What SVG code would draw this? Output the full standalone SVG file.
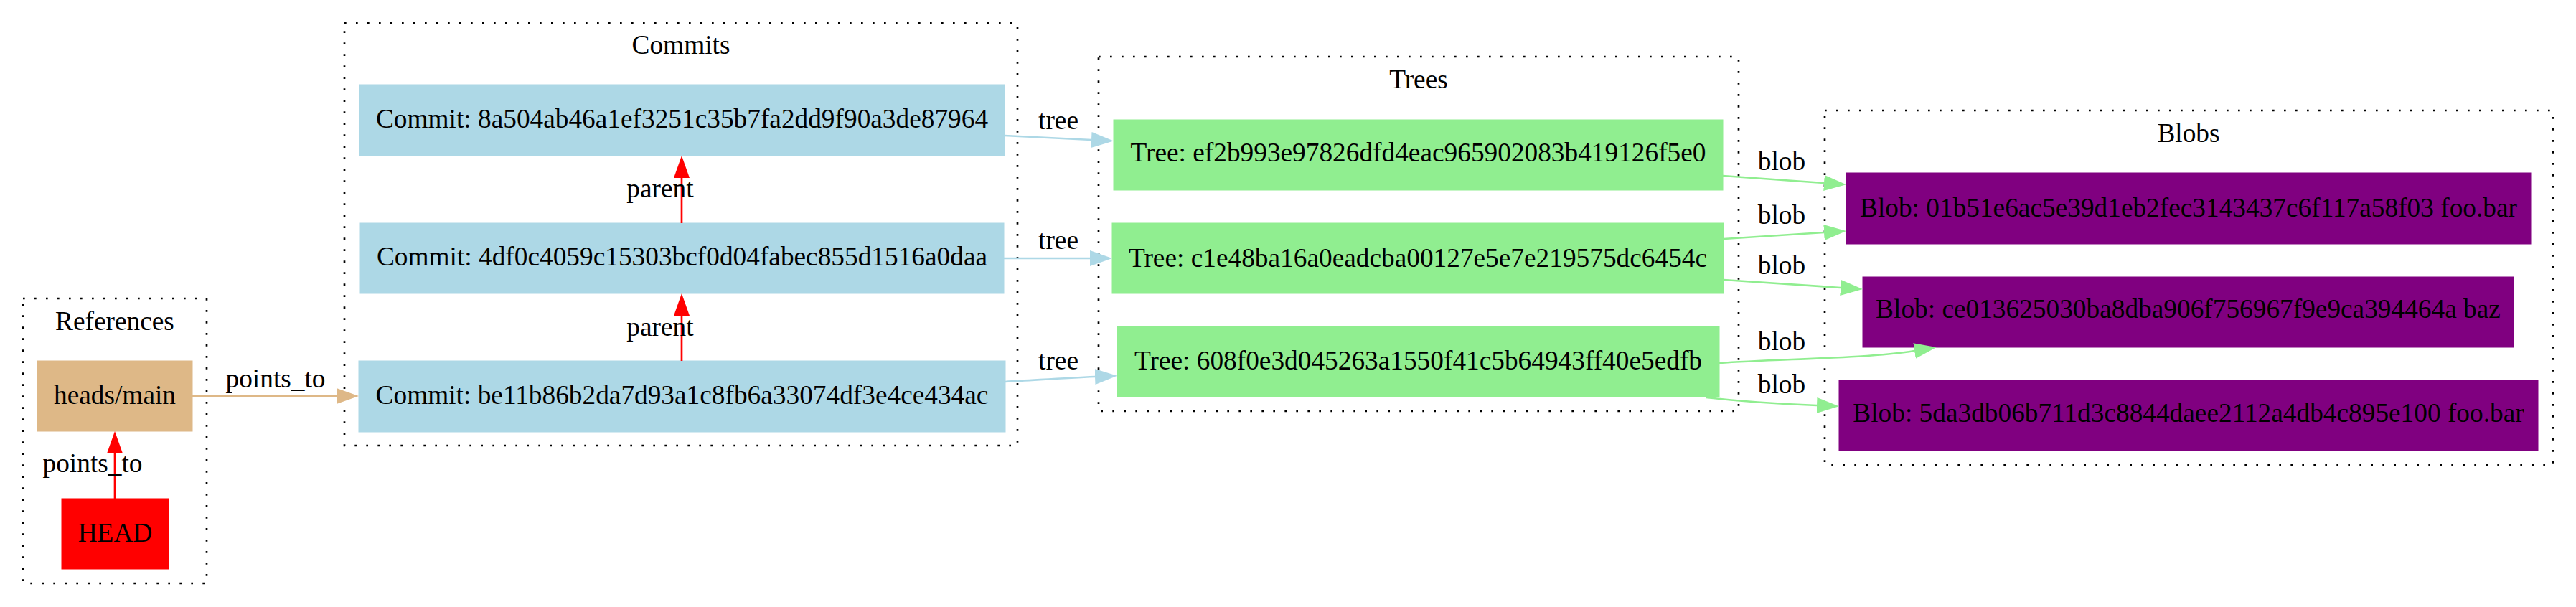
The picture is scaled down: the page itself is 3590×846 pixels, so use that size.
<svg xmlns="http://www.w3.org/2000/svg" width="3590" height="846" viewBox="0 0 3590 846">
<style>
text{font-family:"Liberation Serif","Times New Roman",serif;font-size:37.33px;fill:#000;text-anchor:middle}
.cl{fill:none;stroke:#000;stroke-width:2.67;stroke-dasharray:2.67,13.33}
.e{fill:none;stroke-width:2.67}
.red{stroke:#ff0000}.bw{stroke:#deb887}.lb{stroke:#add8e6}.lg{stroke:#90ee90}
</style>
<defs>
<marker id="aR" markerUnits="userSpaceOnUse" markerWidth="32" markerHeight="24" refX="0" refY="12" orient="auto" viewBox="0 0 32 24"><path d="M0,1 L31,12 L0,23 z" fill="#ff0000"/></marker>
<marker id="aB" markerUnits="userSpaceOnUse" markerWidth="32" markerHeight="24" refX="0" refY="12" orient="auto" viewBox="0 0 32 24"><path d="M0,1 L31,12 L0,23 z" fill="#deb887"/></marker>
<marker id="aL" markerUnits="userSpaceOnUse" markerWidth="32" markerHeight="24" refX="0" refY="12" orient="auto" viewBox="0 0 32 24"><path d="M0,1 L31,12 L0,23 z" fill="#add8e6"/></marker>
<marker id="aG" markerUnits="userSpaceOnUse" markerWidth="32" markerHeight="24" refX="0" refY="12" orient="auto" viewBox="0 0 32 24"><path d="M0,1 L31,12 L0,23 z" fill="#90ee90"/></marker>
</defs>
<rect width="3590" height="846" fill="#fff"/>
<g id="clusters">
<g id="cluster_refs"><rect class="cl" x="32" y="416" width="256" height="397"/><text x="160" y="460">References</text></g>
<g id="cluster_commits"><rect class="cl" x="480" y="32" width="938" height="589"/><text x="949" y="75">Commits</text></g>
<g id="cluster_trees"><rect class="cl" x="1531" y="79" width="892" height="494"/><text x="1977" y="123">Trees</text></g>
<g id="cluster_blobs"><rect class="cl" x="2543" y="154" width="1015" height="494"/><text x="3050" y="198">Blobs</text></g>
</g>
<g id="nodes">
<g id="heads_main"><rect x="52" y="503" width="216" height="98" fill="#deb887" stroke="#deb887"/><text x="160" y="563">heads/main</text></g>
<g id="HEAD"><rect x="86" y="695" width="149" height="98" fill="#ff0000" stroke="#ff0000"/><text x="160.5" y="755">HEAD</text></g>
<g id="commit1"><rect x="501" y="118" width="899" height="99" fill="#add8e6" stroke="#add8e6"/><text x="950.5" y="178">Commit: 8a504ab46a1ef3251c35b7fa2dd9f90a3de87964</text></g>
<g id="commit2"><rect x="502" y="311" width="897" height="98" fill="#add8e6" stroke="#add8e6"/><text x="950.5" y="370">Commit: 4df0c4059c15303bcf0d04fabec855d1516a0daa</text></g>
<g id="commit3"><rect x="500" y="503" width="901" height="99" fill="#add8e6" stroke="#add8e6"/><text x="950.5" y="563">Commit: be11b86b2da7d93a1c8fb6a33074df3e4ce434ac</text></g>
<g id="tree1"><rect x="1552" y="167" width="849" height="98" fill="#90ee90" stroke="#90ee90"/><text x="1976.5" y="225">Tree: ef2b993e97826dfd4eac965902083b419126f5e0</text></g>
<g id="tree2"><rect x="1550" y="311" width="852" height="98" fill="#90ee90" stroke="#90ee90"/><text x="1976" y="372">Tree: c1e48ba16a0eadcba00127e5e7e219575dc6454c</text></g>
<g id="tree3"><rect x="1557" y="455" width="839" height="98" fill="#90ee90" stroke="#90ee90"/><text x="1976.5" y="515">Tree: 608f0e3d045263a1550f41c5b64943ff40e5edfb</text></g>
<g id="blob1"><rect x="2573" y="241" width="954" height="99" fill="#800080" stroke="#800080"/><text x="3050" y="302">Blob: 01b51e6ac5e39d1eb2fec3143437c6f117a58f03 foo.bar</text></g>
<g id="blob2"><rect x="2596" y="386" width="907" height="98" fill="#800080" stroke="#800080"/><text x="3049.5" y="443">Blob: ce013625030ba8dba906f756967f9e9ca394464a baz</text></g>
<g id="blob3"><rect x="2563" y="530" width="974" height="98" fill="#800080" stroke="#800080"/><text x="3050" y="588">Blob: 5da3db06b711d3c8844daee2112a4db4c895e100 foo.bar</text></g>
</g>
<g id="edges">
<path class="e red" d="M160,695 L160,632" marker-end="url(#aR)"/>
<text x="129" y="658">points_to</text>
<path class="e bw" d="M268,552 L469,552" marker-end="url(#aB)"/>
<text x="384" y="540">points_to</text>
<path class="e red" d="M950,311 L950,248" marker-end="url(#aR)"/>
<text x="920" y="275">parent</text>
<path class="e red" d="M950,503 L950,440" marker-end="url(#aR)"/>
<text x="920" y="468">parent</text>
<path class="e lb" d="M1400,189 C1440,191 1480,193 1521,195" marker-end="url(#aL)"/>
<text x="1475" y="180">tree</text>
<path class="e lb" d="M1399,360 L1519,360" marker-end="url(#aL)"/>
<text x="1475" y="347">tree</text>
<path class="e lb" d="M1401,532 C1440,530 1480,527 1526,525" marker-end="url(#aL)"/>
<text x="1475" y="515">tree</text>
<path class="e lg" d="M2401,245 L2542,255" marker-end="url(#aG)"/>
<text x="2483" y="237">blob</text>
<path class="e lg" d="M2402,333 L2542,324" marker-end="url(#aG)"/>
<text x="2483" y="312">blob</text>
<path class="e lg" d="M2402,390 L2565,401" marker-end="url(#aG)"/>
<text x="2483" y="382">blob</text>
<path class="e lg" d="M2396,506 C2480,500 2600,500 2668,489" marker-end="url(#aG)"/>
<text x="2483" y="488">blob</text>
<path class="e lg" d="M2378,554 C2430,560 2480,563 2532,565" marker-end="url(#aG)"/>
<text x="2483" y="548">blob</text>
</g>
</svg>
